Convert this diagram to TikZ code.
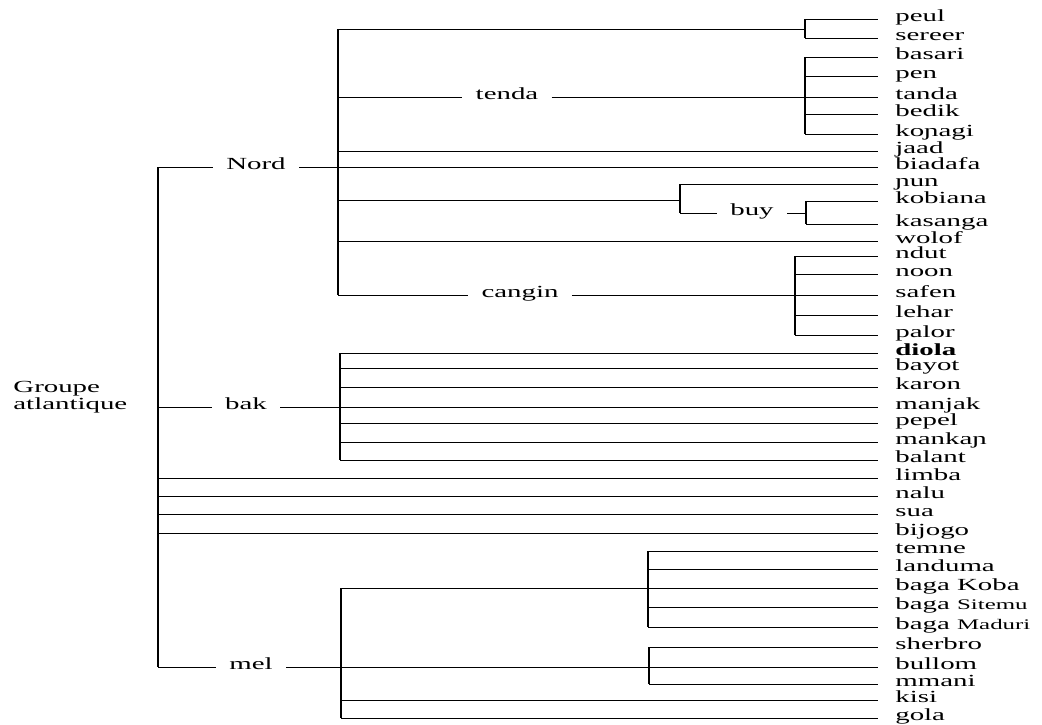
\documentclass[tikz,border=0pt]{standalone}
\usepackage{fontspec}
\setmainfont{Liberation Serif}
\usepackage{tikz}

\begin{document}
\begin{tikzpicture}[x=0.03cm, y=-0.03cm,
  hl/.style={line width=0.6pt},
  vl/.style={line width=0.9pt},
  leaf/.style={anchor=west, font=\fontsize{14.5}{16}\selectfont, xscale=1.7,
    text height=1ex, text depth=0pt, inner ysep=0pt, inner xsep=8.5pt},
  sub/.style={font=\fontsize{14.5}{16}\selectfont, xscale=1.7,
    text height=1ex, text depth=0pt, inner ysep=0pt, inner xsep=6.5pt},
  grp/.style={anchor=west, align=left, font=\fontsize{14.5}{14.5}\selectfont,
    xscale=1.7, inner sep=0pt}]
\useasboundingbox (0,0) rectangle (1042,724);

%--- Leaves (languages) ---
\foreach \id/\txt/\y in {peul/peul/19, sereer/sereer/38, basari/basari/57,
    pen/pen/76, tanda/tanda/97, bedik/bedik/114, konagi/koɲagi/134,
    jaad/jaad/151, biadafa/biadafa/167, jun/ɲun/184, kobiana/kobiana/201,
    kasanga/kasanga/224, wolof/wolof/241, ndut/ndut/256, noon/noon/274,
    safen/safen/295, lehar/lehar/315, palor/palor/335,
    diola/{\bfseries diola}/353, bayot/bayot/368, karon/karon/387,
    manjak/manjak/407, pepel/pepel/423, mankan/mankaɲ/442, balant/balant/460,
    limba/limba/478, nalu/nalu/496, sua/sua/514, bijogo/bijogo/533,
    temne/temne/551, landuma/landuma/569, bagakoba/baga Koba/588,
    bagasitemu/{baga {\fontsize{12.5}{14}\selectfont Sitemu}}/607,
    bagamaduri/{baga {\fontsize{12.5}{14}\selectfont Maduri}}/627,
    sherbro/sherbro/647, bullom/bullom/667, mmani/mmani/684,
    kisi/kisi/700, gola/gola/718}
  \node[leaf] (l-\id) at (878,\y) {\txt};

%--- Root ---
\node[grp] (groupe) at (13,397) {Groupe\\atlantique};
\coordinate (r-nord) at (158,167);
\coordinate (r-bak) at (158,407);
\coordinate (r-mel) at (158,667);
\draw[vl] (r-nord) -- (r-mel);

%--- Nord ---
\node[sub] (nord) at (256,167) {Nord};
\coordinate (n-top) at (338,29);
\coordinate (n-bot) at (338,295);
\draw[hl] (r-nord) -- (nord.west);
\draw[vl] (n-top) -- (n-bot);
\draw[hl] (nord.east) -- (l-biadafa.west);
\foreach \c in {jaad, wolof}
  \draw[hl] (l-\c.west -| n-top) -- (l-\c.west);

% peul / sereer
\coordinate (ps) at (805,29);
\draw[hl] (n-top) -- (ps);
\draw[vl] (l-peul.west -| ps) -- (l-sereer.west -| ps);
\foreach \c in {peul, sereer}
  \draw[hl] (l-\c.west -| ps) -- (l-\c.west);

% tenda
\node[sub] (tenda) at (507,97) {tenda};
\coordinate (td) at (805,97);
\draw[hl] (tenda.west -| n-top) -- (tenda.west);
\draw[hl] (tenda.east) -- (l-tanda.west);
\draw[vl] (l-basari.west -| td) -- (l-konagi.west -| td);
\foreach \c in {basari, pen, bedik, konagi}
  \draw[hl] (l-\c.west -| td) -- (l-\c.west);

% jun / buy
\coordinate (jb) at (680,200);
\draw[hl] (jb -| n-top) -- (jb);
\node[sub] (buy) at (752,213) {buy};
\draw[vl] (l-jun.west -| jb) -- (buy.west -| jb);
\draw[hl] (l-jun.west -| jb) -- (l-jun.west);
\draw[hl] (buy.west -| jb) -- (buy.west);
\coordinate (bv) at (806,213);
\draw[hl] (buy.east) -- (bv);
\draw[vl] (l-kobiana.west -| bv) -- (l-kasanga.west -| bv);
\foreach \c in {kobiana, kasanga}
  \draw[hl] (l-\c.west -| bv) -- (l-\c.west);

% cangin
\node[sub] (cangin) at (520,295) {cangin};
\coordinate (cv) at (795,295);
\draw[hl] (cangin.west -| n-top) -- (cangin.west);
\draw[hl] (cangin.east) -- (l-safen.west);
\draw[vl] (l-ndut.west -| cv) -- (l-palor.west -| cv);
\foreach \c in {ndut, noon, lehar, palor}
  \draw[hl] (l-\c.west -| cv) -- (l-\c.west);

%--- bak ---
\node[sub] (bak) at (246,407) {bak};
\coordinate (bk) at (340,407);
\draw[hl] (r-bak) -- (bak.west);
\draw[hl] (bak.east) -- (l-manjak.west);
\draw[vl] (l-diola.west -| bk) -- (l-balant.west -| bk);
\foreach \c in {diola, bayot, karon, pepel, mankan, balant}
  \draw[hl] (l-\c.west -| bk) -- (l-\c.west);

%--- Isolates on the root ---
\foreach \c in {limba, nalu, sua, bijogo}
  \draw[hl] (l-\c.west -| r-nord) -- (l-\c.west);

%--- mel ---
\node[sub] (mel) at (251,667) {mel};
\coordinate (mv) at (341,667);
\coordinate (tv) at (648,588);
\coordinate (sv) at (649,667);
\draw[hl] (r-mel) -- (mel.west);
\draw[vl] (tv -| mv) -- (l-gola.west -| mv);
\draw[hl] (tv -| mv) -- (l-bagakoba.west);
\draw[hl] (mel.east) -- (l-bullom.west);
\foreach \c in {kisi, gola}
  \draw[hl] (l-\c.west -| mv) -- (l-\c.west);

% temne group
\draw[vl] (l-temne.west -| tv) -- (l-bagamaduri.west -| tv);
\foreach \c in {temne, landuma, bagasitemu, bagamaduri}
  \draw[hl] (l-\c.west -| tv) -- (l-\c.west);

% sherbro group
\draw[vl] (l-sherbro.west -| sv) -- (l-mmani.west -| sv);
\foreach \c in {sherbro, mmani}
  \draw[hl] (l-\c.west -| sv) -- (l-\c.west);
\end{tikzpicture}
\end{document}
